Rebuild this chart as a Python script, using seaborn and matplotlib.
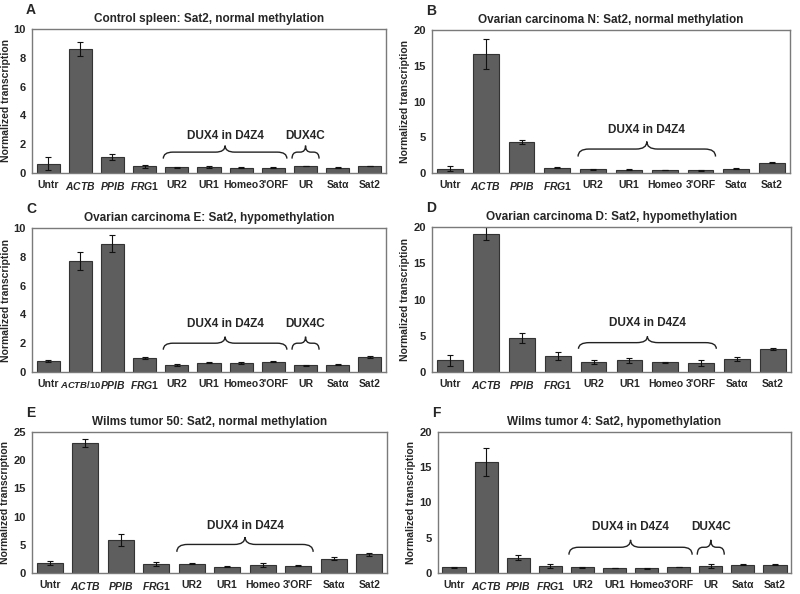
import numpy as np
import pandas as pd
import seaborn as sns
import matplotlib.pyplot as plt
import matplotlib.transforms as mtransforms
from matplotlib.path import Path
from matplotlib.patches import PathPatch

# categories
genes_c = ["Untr", "ACTB", "PPIB", "FRG1", "UR2", "UR1", "Homeo", "3'ORF", "UR", "Satα", "Sat2"]
genes = ["Untr", "ACTB", "PPIB", "FRG1", "UR2", "UR1", "Homeo", "3'ORF", "Satα", "Sat2"]

# values (mean, error)
a_vals = [0.65, 8.6, 1.1, 0.47, 0.40, 0.44, 0.37, 0.38, 0.49, 0.38, 0.48]
a_errs = [0.45, 0.5, 0.2, 0.12, 0.05, 0.06, 0.02, 0.03, 0.02, 0.04, 0.02]
b_vals = [0.62, 16.6, 4.35, 0.75, 0.52, 0.47, 0.42, 0.40, 0.60, 1.45]
b_errs = [0.30, 2.1, 0.30, 0.10, 0.07, 0.08, 0.04, 0.06, 0.04, 0.07]
c_vals = [0.75, 7.7, 8.9, 0.97, 0.50, 0.65, 0.62, 0.70, 0.47, 0.52, 1.02]
c_errs = [0.08, 0.6, 0.6, 0.10, 0.05, 0.02, 0.07, 0.03, 0.04, 0.06, 0.08]
d_vals = [1.6, 19.1, 4.7, 2.2, 1.4, 1.6, 1.35, 1.2, 1.8, 3.2]
d_errs = [0.8, 0.9, 0.7, 0.6, 0.25, 0.4, 0.08, 0.4, 0.3, 0.1]
e_vals = [1.85, 23.0, 5.9, 1.6, 1.65, 1.1, 1.35, 1.3, 2.5, 3.3]
e_errs = [0.35, 0.7, 1.1, 0.4, 0.10, 0.1, 0.35, 0.05, 0.25, 0.25]
f_vals = [0.82, 15.8, 2.17, 1.0, 0.80, 0.75, 0.65, 0.82, 0.95, 1.15, 1.2]
f_errs = [0.05, 2.0, 0.35, 0.3, 0.08, 0.02, 0.06, 0.03, 0.30, 0.08, 0.05]

titles = ["Control spleen: Sat2, normal methylation",
          "Ovarian carcinoma N: Sat2, normal methylation",
          "Ovarian carcinoma E: Sat2, hypomethylation",
          "Ovarian carcinoma D: Sat2, hypomethylation",
          "Wilms tumor 50: Sat2, normal methylation",
          "Wilms tumor 4: Sat2, hypomethylation"]
letters = ["A", "B", "C", "D", "E", "F"]
ymaxes = [10, 20, 10, 20, 25, 20]
ysteps = [2, 5, 2, 5, 5, 5]

sns.set_style("white")
plt.rcParams["font.family"] = ["Liberation Sans", "DejaVu Sans"]
plt.rcParams["font.weight"] = "bold"
plt.rcParams["mathtext.fontset"] = "custom"
plt.rcParams["mathtext.it"] = "Liberation Sans:italic:bold"
plt.rcParams["mathtext.rm"] = "Liberation Sans:bold"

ITAL = {"ACTB", "PPIB", "FRG1"}


def tick_text(g, actb10=False):
    if g == "ACTB" and actb10:
        return r"$\mathit{ACTB}$/10"
    if g in ITAL:
        return r"$\mathit{" + g + "}$"
    return g


def brace(ax, x0, x1, yb, yt, label, ytxt):
    tr = mtransforms.blended_transform_factory(ax.transData, ax.transAxes)
    xc = (x0 + x1) / 2
    ym = yb + (yt - yb) * 0.5
    w = min(0.3, (x1 - x0) / 5)
    verts = [(x0, yb), (x0, ym), (x0 + w, ym), (xc - w, ym), (xc, ym), (xc, yt),
             (xc, ym), (xc + w, ym), (x1 - w, ym), (x1, ym), (x1, yb)]
    codes = [Path.MOVETO, Path.CURVE3, Path.CURVE3, Path.LINETO, Path.CURVE3, Path.CURVE3,
             Path.CURVE3, Path.CURVE3, Path.LINETO, Path.CURVE3, Path.CURVE3]
    ax.add_patch(PathPatch(Path(verts, codes), fill=False, lw=1.0, color="#222222",
                           transform=tr, clip_on=False))
    ax.text(xc, ytxt, label, transform=tr, ha="center", va="center",
            fontsize=8.5, fontweight="bold")


fig = plt.figure(figsize=(8, 5.94), dpi=100)

# axes rectangles in pixels: left, top, right, bottom
boxes = [(32, 29, 386, 173), (432, 30, 790, 173),
         (32, 228, 386, 372), (432, 227, 791, 372),
         (32, 432, 387, 573), (438, 432, 791, 573)]
braces_y = [(0.10, 0.19, 0.255), (0.115, 0.22, 0.30),
            (0.155, 0.245, 0.335), (0.16, 0.245, 0.34),
            (0.15, 0.255, 0.33), (0.13, 0.235, 0.325)]

vals_all = [a_vals, b_vals, c_vals, d_vals, e_vals, f_vals]
errs_all = [a_errs, b_errs, c_errs, d_errs, e_errs, f_errs]
W, H = 800, 594

for i in range(6):
    l, t, r, b = boxes[i]
    ax = fig.add_axes([l / W, 1 - b / H, (r - l) / W, (b - t) / H])
    vals = vals_all[i]
    errs = errs_all[i]
    cats = genes_c if len(vals) == 11 else genes
    df = pd.DataFrame({"gene": cats, "val": vals, "err": errs})
    sns.barplot(data=df, x="gene", y="val", order=cats, color="#5e5e5e",
                saturation=1, width=0.72, edgecolor="#333333", linewidth=0.8,
                errorbar=None, ax=ax)
    ax.errorbar(np.arange(len(cats)), df["val"], yerr=df["err"], fmt="none",
                ecolor="#111111", elinewidth=0.8, capsize=2.2, capthick=0.8)
    n = len(cats)
    ax.set_xlim(-0.5, n - 0.5)
    ax.set_ylim(0, ymaxes[i])
    ax.set_yticks(np.arange(0, ymaxes[i] + 0.1, ysteps[i]))
    ax.set_xticks(np.arange(n))
    ax.set_xticklabels([tick_text(g, actb10=(i == 2)) for g in cats])
    ax.set_xticks(np.arange(-0.5, n, 1), minor=True)
    ax.tick_params(axis="x", which="major", length=0, pad=5, labelsize=7.5)
    ax.tick_params(axis="x", which="minor", length=3, direction="out", color="#777777")
    ax.tick_params(axis="y", length=3, direction="out", color="#777777", labelsize=8, pad=1.5)
    if i == 2:
        # ACTB/10 is wide: tighten it against its neighbour
        lab = ax.get_xticklabels()[1]
        lab.set_fontsize(6.8)
        lab.set_x(0.95)
    ax.set_xlabel("")
    ax.set_ylabel("Normalized transcription", fontsize=7.5, fontweight="bold", labelpad=2)
    for s in ax.spines.values():
        s.set_visible(True)
        s.set_color("#7a7a7a")
        s.set_linewidth(1.0)
    ax.set_title(titles[i], fontsize=8.5, fontweight="bold", pad=5)
    fig.text((l - 6) / W, 1 - (t - 19) / H, letters[i], fontsize=10, fontweight="bold",
             ha="left", va="center")

    yb, yt, ytxt = braces_y[i]
    i0 = cats.index("UR2")
    i1 = cats.index("3'ORF")
    brace(ax, i0 - 0.42, i1 + 0.42, yb, yt, "DUX4 in D4Z4", ytxt)
    if "UR" in cats:
        k = cats.index("UR")
        brace(ax, k - 0.42, k + 0.42, yb, yt, "DUX4C", ytxt)

fig.savefig("out.png", dpi=100)
